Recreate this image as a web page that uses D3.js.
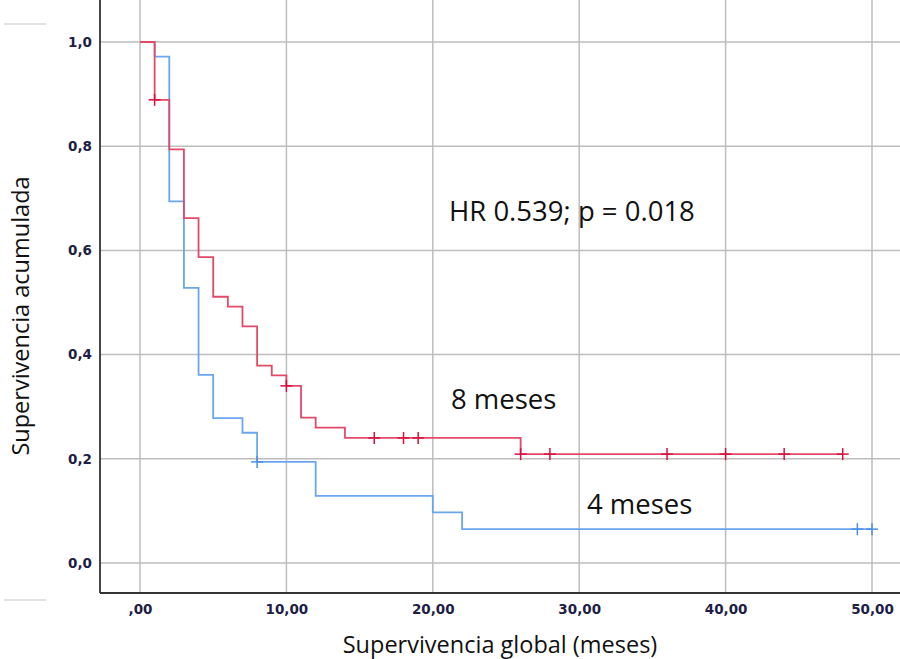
<!DOCTYPE html>
<html>
<head>
<meta charset="utf-8">
<script src="https://cdn.jsdelivr.net/npm/d3@7"></script>
<style>
  body { margin: 0; background: #fff; }
  svg { display: block; }
  .tick text { font-family: "DejaVu Sans", Verdana, sans-serif; font-weight: bold; font-size: 13.5px; fill: #1e1e46; }
</style>
</head>
<body>
<svg width="900" height="659"></svg>
<script>
// Kaplan-Meier steps
var redTimes = [0, 1, 2, 3, 4, 5, 6, 7, 8, 9, 10, 11, 12, 14, 26];
var redSurv = [1.0, 0.889, 0.794, 0.662, 0.587, 0.511, 0.492, 0.454, 0.379, 0.360, 0.340, 0.279, 0.260, 0.240, 0.209];
var redCensor = [1, 10, 16, 18, 19, 26, 28, 36, 40, 44, 48];

var blueTimes = [0, 1, 2, 3, 4, 5, 7, 8, 12, 20, 22];
var blueSurv = [1.0, 0.972, 0.694, 0.528, 0.361, 0.278, 0.250, 0.194, 0.129, 0.097, 0.065];
var blueCensor = [8, 49, 50];

var xTicks = [0, 10, 20, 30, 40, 50];
var yTicks = [0, 0.2, 0.4, 0.6, 0.8, 1.0];

var svg = d3.select("svg"),
    left = 100, top = 12, bottom = 593, right = 900;

var x = d3.scaleLinear().domain([0, 50]).range([140, 872]),
    y = d3.scaleLinear().domain([0, 1]).range([563, 42]);

// grid
svg.append("g").selectAll("line")
    .data(yTicks).enter().append("line")
    .attr("x1", left).attr("x2", right)
    .attr("y1", function(d) { return y(d); }).attr("y2", function(d) { return y(d); })
    .attr("stroke", "#bdbdbd").attr("stroke-width", 1.5);

svg.append("g").selectAll("line")
    .data(xTicks).enter().append("line")
    .attr("x1", function(d) { return x(d); }).attr("x2", function(d) { return x(d); })
    .attr("y1", top).attr("y2", bottom)
    .attr("stroke", "#bdbdbd").attr("stroke-width", 1.5);

// axes
var fmtY = function(d) { return d3.format(".1f")(d).replace(".", ","); };
var fmtX = function(d) { return d === 0 ? ",00" : d3.format(".2f")(d).replace(".", ","); };

var gy = svg.append("g")
    .attr("transform", "translate(" + left + ",0)")
    .call(d3.axisLeft(y).tickValues(yTicks).tickSize(0).tickPadding(8).tickFormat(fmtY));
gy.select(".domain").remove();

var gx = svg.append("g")
    .attr("transform", "translate(0," + bottom + ")")
    .call(d3.axisBottom(x).tickValues(xTicks).tickSize(0).tickPadding(11).tickFormat(fmtX));
gx.select(".domain").remove();

svg.append("line")
    .attr("x1", left).attr("x2", left).attr("y1", top).attr("y2", bottom)
    .attr("stroke", "#333").attr("stroke-width", 1.8);
svg.append("line")
    .attr("x1", left).attr("x2", right).attr("y1", bottom).attr("y2", bottom)
    .attr("stroke", "#333").attr("stroke-width", 1.8);

// little stray rules at the left edge
svg.append("line").attr("x1", 4).attr("x2", 46).attr("y1", 24).attr("y2", 24)
    .attr("stroke", "#c8c8c8").attr("stroke-width", 1.2);
svg.append("line").attr("x1", 4).attr("x2", 46).attr("y1", 600).attr("y2", 600)
    .attr("stroke", "#c8c8c8").attr("stroke-width", 1.2);

// curves
function survAt(times, surv, t) {
    var i = d3.bisectRight(times, t) - 1;
    return surv[Math.max(i, 0)];
}

function drawCurve(times, surv, censor, color, markColor) {
    var end = d3.max(censor);
    var pts = times.map(function(t, i) { return [t, surv[i]]; });
    pts.push([end, surv[surv.length - 1]]);

    var line = d3.line()
        .x(function(d) { return x(d[0]); })
        .y(function(d) { return y(d[1]); })
        .curve(d3.curveStepAfter);

    svg.append("path")
        .datum(pts)
        .attr("fill", "none")
        .attr("stroke", color)
        .attr("stroke-width", 1.8)
        .attr("d", line);

    var marks = svg.append("g").selectAll("g")
        .data(censor).enter().append("g")
        .attr("transform", function(d) {
            return "translate(" + x(d) + "," + y(survAt(times, surv, d)) + ")";
        });
    marks.append("line").attr("x1", -6).attr("x2", 6).attr("y1", 0).attr("y2", 0)
        .attr("stroke", markColor).attr("stroke-width", 1.5);
    marks.append("line").attr("x1", 0).attr("x2", 0).attr("y1", -6).attr("y2", 6)
        .attr("stroke", markColor).attr("stroke-width", 1.5);
}

drawCurve(blueTimes, blueSurv, blueCensor, "#6aa5ee", "#4d8fe6");
drawCurve(redTimes, redSurv, redCensor, "#e24a68", "#d9103f");

// annotations
var font = "'Open Sans', 'DejaVu Sans', sans-serif";
svg.append("text").attr("x", 449).attr("y", 221)
    .attr("font-family", font).attr("font-size", 27.5).attr("fill", "#111")
    .text("HR 0.539; p = 0.018");
svg.append("text").attr("x", 451).attr("y", 409)
    .attr("font-family", font).attr("font-size", 27.5).attr("fill", "#111")
    .text("8 meses");
svg.append("text").attr("x", 587).attr("y", 514)
    .attr("font-family", font).attr("font-size", 27.5).attr("fill", "#111")
    .text("4 meses");

// axis titles
svg.append("text").attr("x", 500).attr("y", 653)
    .attr("text-anchor", "middle")
    .attr("font-family", font).attr("font-size", 23.5).attr("fill", "#111")
    .text("Supervivencia global (meses)");
svg.append("text")
    .attr("transform", "translate(29,316) rotate(-90)")
    .attr("text-anchor", "middle")
    .attr("font-family", font).attr("font-size", 23.5).attr("fill", "#111")
    .text("Supervivencia acumulada");
</script>
</body>
</html>
